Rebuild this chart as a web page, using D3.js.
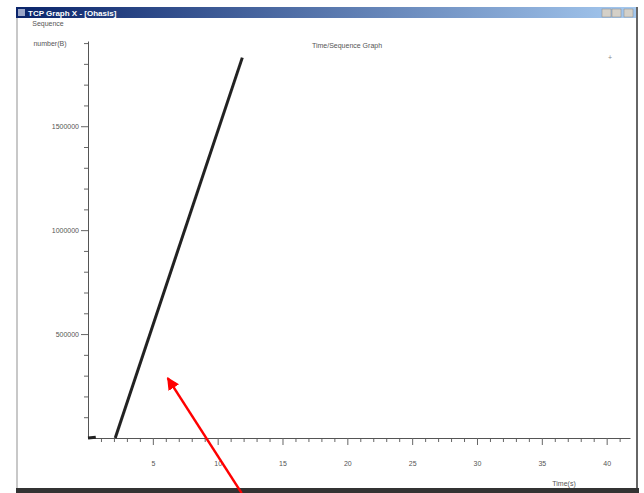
<!DOCTYPE html>
<html>
<head>
<meta charset="utf-8">
<script src="https://cdn.jsdelivr.net/npm/d3@7"></script>
<style>
	body { margin: 0; background: #fff; }
	svg { display: block; font-family: "Liberation Sans", Arial, sans-serif; }
</style>
</head>
<body>
<svg id="chart" width="644" height="493"></svg>
<script>
// time (s) / sequence number (bytes)
var startTime = [0, 0.6]
var startSeq  = [0, 4000]
var time      = [2.1, 11.9]
var seq       = [0, 1830000]

var yLabels = [500000, 1000000, 1500000]
var xLabels = [5, 10, 15, 20, 25, 30, 35, 40]

// red annotation arrow, in data units (tail, tip)
var arrowT = [11.85, 6.15]
var arrowS = [-265000, 288000]

var svg = d3.select("#chart")

// window frame
var grad = svg.append("defs").append("linearGradient")
	.attr("id", "bar")
grad.append("stop").attr("offset", "0%").attr("stop-color", "#0a246a")
grad.append("stop").attr("offset", "100%").attr("stop-color", "#a6caf0")

svg.append("rect")
	.attr("x", 16).attr("y", 7).attr("width", 622).attr("height", 11)
	.attr("fill", "url(#bar)")
svg.append("rect")
	.attr("x", 18).attr("y", 9).attr("width", 7).attr("height", 7)
	.attr("fill", "#9aa6c8")
svg.append("text")
	.attr("x", 28).attr("y", 16)
	.attr("font-size", 8).attr("font-weight", "bold").attr("fill", "#fff")
	.text("TCP Graph X - [Ohasis]")
svg.selectAll(".btn")
	.data([602, 612, 624])
	.enter().append("rect")
	.attr("class", "btn")
	.attr("x", d => d).attr("y", 9).attr("width", 9).attr("height", 8)
	.attr("fill", "#d4d0c8").attr("stroke", "#888").attr("stroke-width", 0.5)

svg.append("line")
	.attr("x1", 17).attr("x2", 17).attr("y1", 18).attr("y2", 489)
	.attr("stroke", "#c8c8c8").attr("stroke-width", 2)
svg.append("line")
	.attr("x1", 637).attr("x2", 637).attr("y1", 7).attr("y2", 489)
	.attr("stroke", "#666").attr("stroke-width", 2)
svg.append("rect")
	.attr("x", 16).attr("y", 488).attr("width", 623).attr("height", 5)
	.attr("fill", "#333")

// plot
var x = d3.scaleLinear().domain([0, 41.8]).range([88, 630])
var y = d3.scaleLinear().domain([0, 1910000]).range([438, 41])

var xMinor = d3.range(1, 42).filter(d => d % 5 != 0)
var yMinor = d3.range(100000, 1900001, 100000).filter(d => d % 500000 != 0)

svg.append("g")
	.attr("transform", "translate(0,438)")
	.call(d3.axisBottom(x).tickValues(xMinor).tickSize(4).tickFormat(""))
	.call(g => g.select(".domain").remove())
svg.append("g")
	.attr("class", "x-axis")
	.attr("transform", "translate(0,438)")
	.call(d3.axisBottom(x).tickValues(xLabels).tickSize(7).tickPadding(16).tickSizeOuter(0))

svg.append("g")
	.attr("transform", "translate(88,0)")
	.call(d3.axisLeft(y).tickValues(yMinor).tickSize(4).tickFormat(""))
	.call(g => g.select(".domain").remove())
svg.append("g")
	.attr("class", "y-axis")
	.attr("transform", "translate(88,0)")
	.call(d3.axisLeft(y).tickValues(yLabels).tickSize(7).tickPadding(2).tickSizeOuter(0).tickFormat(d3.format("d")))

svg.selectAll(".x-axis, .y-axis").selectAll("text")
	.attr("font-size", 7).attr("fill", "#555")
svg.selectAll("g .tick line").attr("stroke", "#666")
svg.selectAll(".domain").attr("stroke", "#555")

var line = d3.line()
	.x(d => x(d[0]))
	.y(d => y(d[1]))

svg.append("path")
	.datum(d3.zip(startTime, startSeq))
	.attr("d", line)
	.attr("fill", "none").attr("stroke", "#222").attr("stroke-width", 3)

svg.append("path")
	.datum(d3.zip(time, seq))
	.attr("d", line)
	.attr("fill", "none").attr("stroke", "#222").attr("stroke-width", 3)

// texts
svg.append("text")
	.attr("x", 347).attr("y", 48)
	.attr("text-anchor", "middle")
	.attr("font-size", 7).attr("fill", "#555")
	.text("Time/Sequence Graph")
svg.append("text")
	.attr("x", 48).attr("y", 26)
	.attr("text-anchor", "middle")
	.attr("font-size", 7).attr("fill", "#555")
	.text("Sequence")
svg.append("text")
	.attr("x", 50).attr("y", 46)
	.attr("text-anchor", "middle")
	.attr("font-size", 7).attr("fill", "#555")
	.text("number(B)")
svg.append("text")
	.attr("x", 564).attr("y", 486)
	.attr("text-anchor", "middle")
	.attr("font-size", 7).attr("fill", "#555")
	.text("Time(s)")
svg.append("text")
	.attr("x", 610).attr("y", 60)
	.attr("text-anchor", "middle")
	.attr("font-size", 7).attr("fill", "#888")
	.text("+")

// annotation arrow
svg.append("defs").append("marker")
	.attr("id", "head")
	.attr("viewBox", "0 0 10 10")
	.attr("refX", 9).attr("refY", 5)
	.attr("markerWidth", 5).attr("markerHeight", 5)
	.attr("orient", "auto")
	.append("path")
	.attr("d", "M0,0L10,5L0,10z")
	.attr("fill", "#f00")

svg.append("line")
	.attr("x1", x(arrowT[0])).attr("y1", y(arrowS[0]))
	.attr("x2", x(arrowT[1])).attr("y2", y(arrowS[1]))
	.attr("stroke", "#f00").attr("stroke-width", 2.5)
	.attr("marker-end", "url(#head)")
</script>
</body>
</html>
